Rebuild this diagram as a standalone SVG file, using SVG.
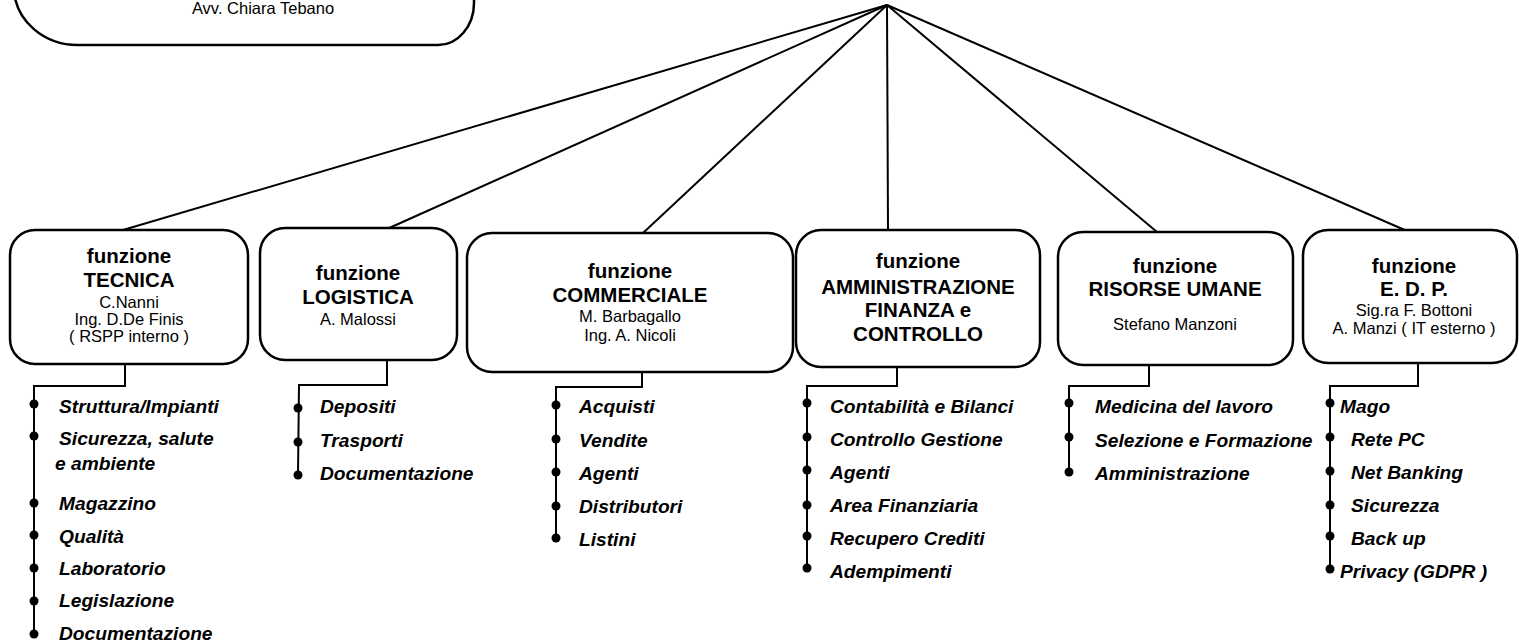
<svg xmlns="http://www.w3.org/2000/svg" width="1519" height="644" viewBox="0 0 1519 644">
<style>
.box{fill:#fff;stroke:#000;stroke-width:2.5}
.ln{fill:none;stroke:#000;stroke-width:2}
.t{font-family:"Liberation Sans",Arial,sans-serif;text-anchor:middle;fill:#000}
.h{font-size:20.5px;font-weight:bold}
.n{font-size:16.5px}
.it{font-family:"Liberation Sans",Arial,sans-serif;font-size:19.2px;font-weight:bold;font-style:italic;fill:#000}
.b{fill:#000}
</style>
<rect width="1519" height="644" fill="#fff"/>
<g id="top">
<path class="box" d="M 14 -10 A 64 58 0 0 0 78 45 L 438 45 A 36 42 0 0 0 474 3 L 474 -10"/>
<text class="t" x="263" y="14" font-size="16.5">Avv. Chiara Tebano</text>
</g>
<g id="connectors">
<line class="ln" x1="887" y1="5" x2="123" y2="230"/>
<line class="ln" x1="887" y1="5" x2="387" y2="229"/>
<line class="ln" x1="887" y1="5" x2="643" y2="233"/>
<line class="ln" x1="887" y1="5" x2="888" y2="230"/>
<line class="ln" x1="887" y1="5" x2="1157" y2="232"/>
<line class="ln" x1="887" y1="5" x2="1407" y2="231"/>
<polyline class="ln" points="125,364 125,386 34,386 34,633"/>
<polyline class="ln" points="387,360 387,385 299,385 298,475"/>
<polyline class="ln" points="642,372 642,387 556,387 556,538"/>
<polyline class="ln" points="897,367 897,386 807,386 807,568"/>
<polyline class="ln" points="1149,365 1149,386 1069,386 1069,472"/>
<polyline class="ln" points="1418,363 1418,386 1330,386 1330,569"/>
</g>
<g id="tecnica">
<rect class="box" x="10" y="230" width="238" height="134" rx="25"/>
<text class="t h" x="129" y="263">funzione</text>
<text class="t h" x="129" y="287">TECNICA</text>
<text class="t n" x="129" y="308">C.Nanni</text>
<text class="t n" x="129" y="325">Ing. D.De Finis</text>
<text class="t n" x="129" y="342">( RSPP interno )</text>
<circle class="b" cx="34" cy="404" r="4.5"/><text class="it" x="59" y="413">Struttura/Impianti</text>
<circle class="b" cx="34" cy="436" r="4.5"/><text class="it" x="59" y="445">Sicurezza, salute</text>
<text class="it" x="55" y="470">e ambiente</text>
<circle class="b" cx="34" cy="503" r="4.5"/><text class="it" x="59" y="510">Magazzino</text>
<circle class="b" cx="34" cy="535" r="4.5"/><text class="it" x="59" y="543">Qualità</text>
<circle class="b" cx="34" cy="568" r="4.5"/><text class="it" x="59" y="575">Laboratorio</text>
<circle class="b" cx="34" cy="601" r="4.5"/><text class="it" x="59" y="607">Legislazione</text>
<circle class="b" cx="34" cy="634" r="4.5"/><text class="it" x="59" y="640">Documentazione</text>
</g>
<g id="logistica">
<rect class="box" x="260" y="228" width="197" height="132" rx="25"/>
<text class="t h" x="358" y="280">funzione</text>
<text class="t h" x="358" y="304">LOGISTICA</text>
<text class="t n" x="358" y="325">A. Malossi</text>
<circle class="b" cx="298" cy="408" r="4.5"/><text class="it" x="320" y="413">Depositi</text>
<circle class="b" cx="298" cy="442" r="4.5"/><text class="it" x="320" y="447">Trasporti</text>
<circle class="b" cx="298" cy="475" r="4.5"/><text class="it" x="320" y="480">Documentazione</text>
</g>
<g id="commerciale">
<rect class="box" x="467" y="233" width="326" height="139" rx="25"/>
<text class="t h" x="630" y="278">funzione</text>
<text class="t h" x="630" y="302">COMMERCIALE</text>
<text class="t n" x="630" y="322">M. Barbagallo</text>
<text class="t n" x="630" y="341">Ing. A. Nicoli</text>
<circle class="b" cx="556" cy="405" r="4.5"/><text class="it" x="579" y="413">Acquisti</text>
<circle class="b" cx="556" cy="439" r="4.5"/><text class="it" x="579" y="447">Vendite</text>
<circle class="b" cx="556" cy="472" r="4.5"/><text class="it" x="579" y="480">Agenti</text>
<circle class="b" cx="556" cy="506" r="4.5"/><text class="it" x="579" y="513">Distributori</text>
<circle class="b" cx="556" cy="538" r="4.5"/><text class="it" x="579" y="546">Listini</text>
</g>
<g id="amministrazione">
<rect class="box" x="796" y="230" width="244" height="137" rx="25"/>
<text class="t h" x="918" y="268">funzione</text>
<text class="t h" x="918" y="294">AMMINISTRAZIONE</text>
<text class="t h" x="918" y="317">FINANZA e</text>
<text class="t h" x="918" y="341">CONTROLLO</text>
<circle class="b" cx="807" cy="403" r="4.5"/><text class="it" x="830" y="413">Contabilità e Bilanci</text>
<circle class="b" cx="807" cy="437" r="4.5"/><text class="it" x="830" y="446">Controllo Gestione</text>
<circle class="b" cx="807" cy="470" r="4.5"/><text class="it" x="830" y="479">Agenti</text>
<circle class="b" cx="807" cy="505" r="4.5"/><text class="it" x="830" y="512">Area Finanziaria</text>
<circle class="b" cx="807" cy="536" r="4.5"/><text class="it" x="830" y="545">Recupero Crediti</text>
<circle class="b" cx="807" cy="568" r="4.5"/><text class="it" x="830" y="578">Adempimenti</text>
</g>
<g id="risorse">
<rect class="box" x="1058" y="232" width="235" height="133" rx="25"/>
<text class="t h" x="1175" y="273">funzione</text>
<text class="t h" x="1175" y="296">RISORSE UMANE</text>
<text class="t n" x="1175" y="330">Stefano Manzoni</text>
<circle class="b" cx="1069" cy="403" r="4.5"/><text class="it" x="1095" y="413">Medicina del lavoro</text>
<circle class="b" cx="1069" cy="437" r="4.5"/><text class="it" x="1095" y="447">Selezione e Formazione</text>
<circle class="b" cx="1069" cy="472" r="4.5"/><text class="it" x="1095" y="480">Amministrazione</text>
</g>
<g id="edp">
<rect class="box" x="1303" y="230" width="214" height="133" rx="25"/>
<text class="t h" x="1414" y="273">funzione</text>
<text class="t h" x="1414" y="296">E. D. P.</text>
<text class="t n" x="1414" y="316">Sig.ra F. Bottoni</text>
<text class="t n" x="1414" y="334">A. Manzi ( IT esterno )</text>
<circle class="b" cx="1330" cy="403" r="4.5"/><text class="it" x="1340" y="413">Mago</text>
<circle class="b" cx="1330" cy="437" r="4.5"/><text class="it" x="1351" y="446">Rete PC</text>
<circle class="b" cx="1330" cy="471" r="4.5"/><text class="it" x="1351" y="479">Net Banking</text>
<circle class="b" cx="1330" cy="505" r="4.5"/><text class="it" x="1351" y="512">Sicurezza</text>
<circle class="b" cx="1330" cy="536" r="4.5"/><text class="it" x="1351" y="545">Back up</text>
<circle class="b" cx="1330" cy="569" r="4.5"/><text class="it" x="1340" y="578">Privacy (GDPR )</text>
</g>
</svg>
